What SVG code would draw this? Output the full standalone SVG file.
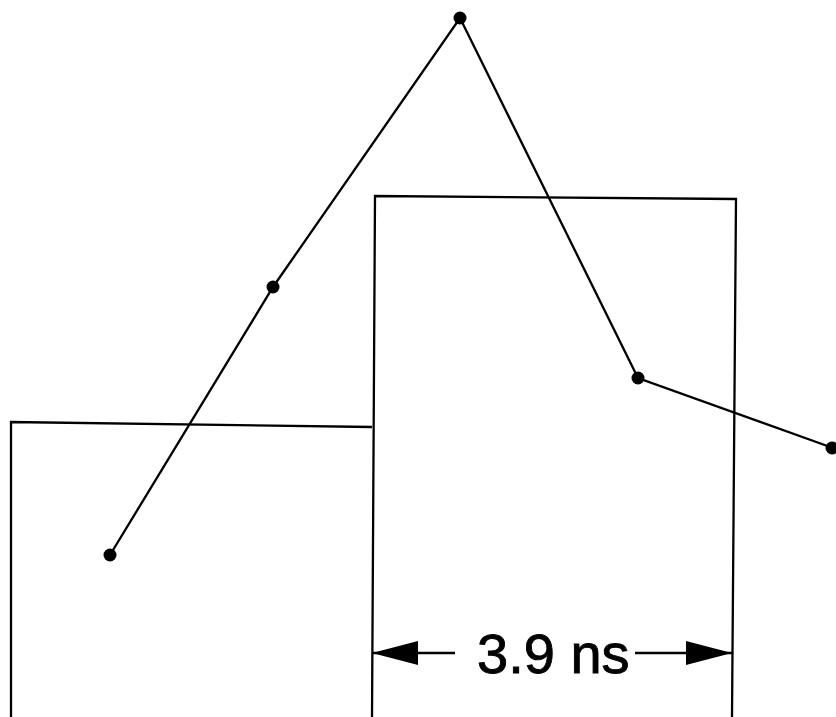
<svg xmlns="http://www.w3.org/2000/svg" width="836" height="717" viewBox="0 0 836 717">
<style>
.ln{fill:none;stroke:#000;stroke-width:2.3;stroke-linejoin:miter}
.dot{fill:#000}
.lbl{font-family:"Liberation Sans",Arial,sans-serif;font-size:56px;fill:#000;stroke:#000;stroke-width:0.9}
</style>
<defs>
<marker id="ah" viewBox="0 0 46 24" refX="46" refY="12" markerWidth="46" markerHeight="24" markerUnits="userSpaceOnUse" orient="auto">
<path d="M0,0 L46,12 L0,24 Z" fill="#000"/>
</marker>
</defs>
<rect width="836" height="717" fill="#fff"/>
<g id="pulse-low">
<path class="ln" d="M11,717 L11,422 L372,427"/>
</g>
<g id="pulse-high">
<path class="ln" d="M372,717 L375,196 L736,199 L732,717"/>
</g>
<g id="connectors">
<polyline class="ln" points="110,555 273,287 460,18 638,378 833,448"/>
<line class="ln" x1="455" y1="653" x2="372" y2="653" marker-end="url(#ah)"/>
<line class="ln" x1="635" y1="653" x2="732" y2="653" marker-end="url(#ah)"/>
</g>
<g id="points">
<circle class="dot" cx="110" cy="555" r="6.5"/>
<circle class="dot" cx="273" cy="287" r="6.5"/>
<circle class="dot" cx="460" cy="18" r="6.5"/>
<circle class="dot" cx="638" cy="378" r="6.5"/>
<circle class="dot" cx="832" cy="448" r="6.5"/>
</g>
<g id="label">
<text class="lbl" x="477" y="673">3.9 ns</text>
</g>
</svg>
